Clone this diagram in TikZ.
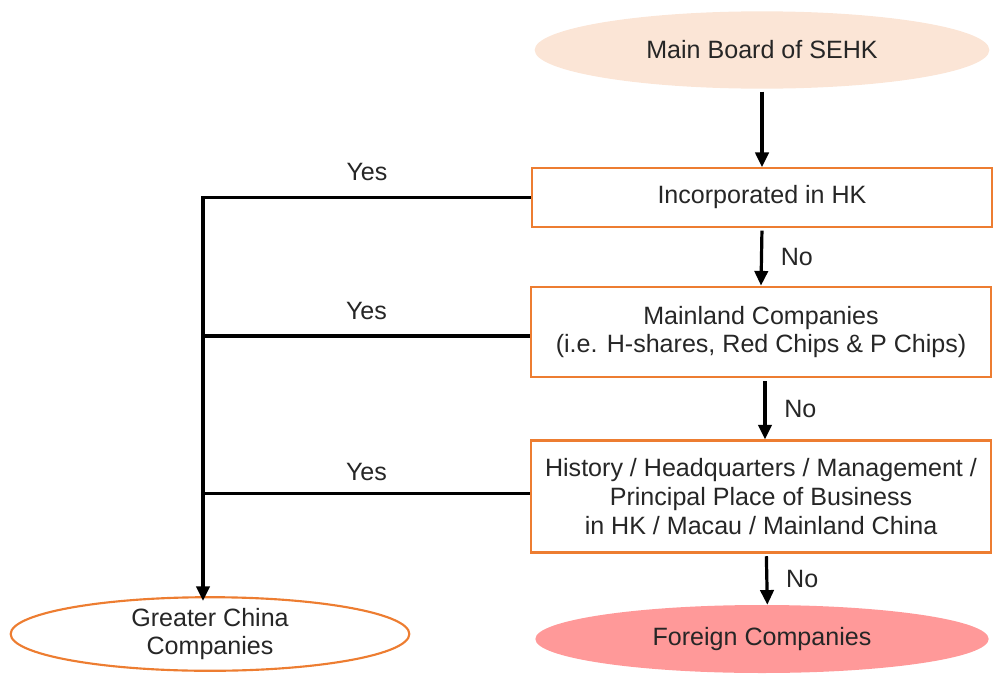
\documentclass[tikz,border=0pt]{standalone}
\usepackage{fontspec}
\setmainfont{Liberation Sans}
\usetikzlibrary{shapes.geometric,arrows.meta}
\definecolor{peach}{HTML}{FBE5D6}
\definecolor{boxorange}{HTML}{ED7D31}
\definecolor{rose}{HTML}{FF9999}
\definecolor{ink}{HTML}{262626}
\tikzset{
  every node/.style={font=\fontsize{18.8}{21.5}\selectfont, text=ink, align=center},
  oval/.style={ellipse, inner sep=0pt},
  testbox/.style={draw=boxorange, line width=1.6pt, rectangle, minimum width=345pt},
  flow/.style={line width=2.4pt, -{Triangle[length=11pt,width=10pt]}},
  branch/.style={line width=2.4pt}
}
\begin{document}
\begin{tikzpicture}[x=0.75pt,y=-0.75pt]
    \useasboundingbox (0,0) rectangle (993,675);
    % start and end ovals
    \node[oval, fill=peach, minimum width=341pt, minimum height=58pt] (board) at (762,50) {Main Board of SEHK};
    \node[oval, draw=boxorange, line width=1.6pt, minimum width=299pt, minimum height=46pt] (greater) at (210,634) {Greater China\\Companies};
    \node[oval, fill=rose, minimum width=340pt, minimum height=51pt] (foreign) at (762,639) {Foreign Companies};
    % tests
    \node[testbox, minimum height=44pt] (incorp) at (762,197.5) {Incorporated in HK};
    \node[testbox, minimum height=68pt] (mainland) at (761,332) {Mainland Companies\\(i.e. H-shares, Red Chips \& P Chips)};
    \node[testbox, minimum height=84pt] (history) at (761,496.5) {History / Headquarters / Management /\\Principal Place of Business\\in HK / Macau / Mainland China};
    % the No path
    \draw[flow, shorten <=2pt] (board.south) -- (incorp.north);
    \draw[flow, shorten <=2pt] (incorp.south) -- node[right=10pt] {No} (mainland.north);
    \draw[flow, shorten <=2pt] ([xshift=3pt]mainland.south) -- node[right=10pt] {No} ([xshift=3pt]history.north);
    \draw[flow, shorten <=2pt] ([xshift=4pt]history.south) -- node[right=10pt] {No} ([xshift=4pt]foreign.north);
    % the Yes path
    \coordinate (trunk) at (203,196);
    \coordinate (drop) at (203,601);
    \draw[flow] (incorp.west) -- node[above=8pt] {Yes} (incorp.west -| trunk) -- (drop);
    \draw[branch] ([yshift=-3pt]mainland.west) -- node[above=8pt] {Yes} ([yshift=-3pt]mainland.west -| trunk);
    \draw[branch] ([yshift=2pt]history.west) -- node[above=5pt] {Yes} ([yshift=2pt]history.west -| trunk);
\end{tikzpicture}
\end{document}
